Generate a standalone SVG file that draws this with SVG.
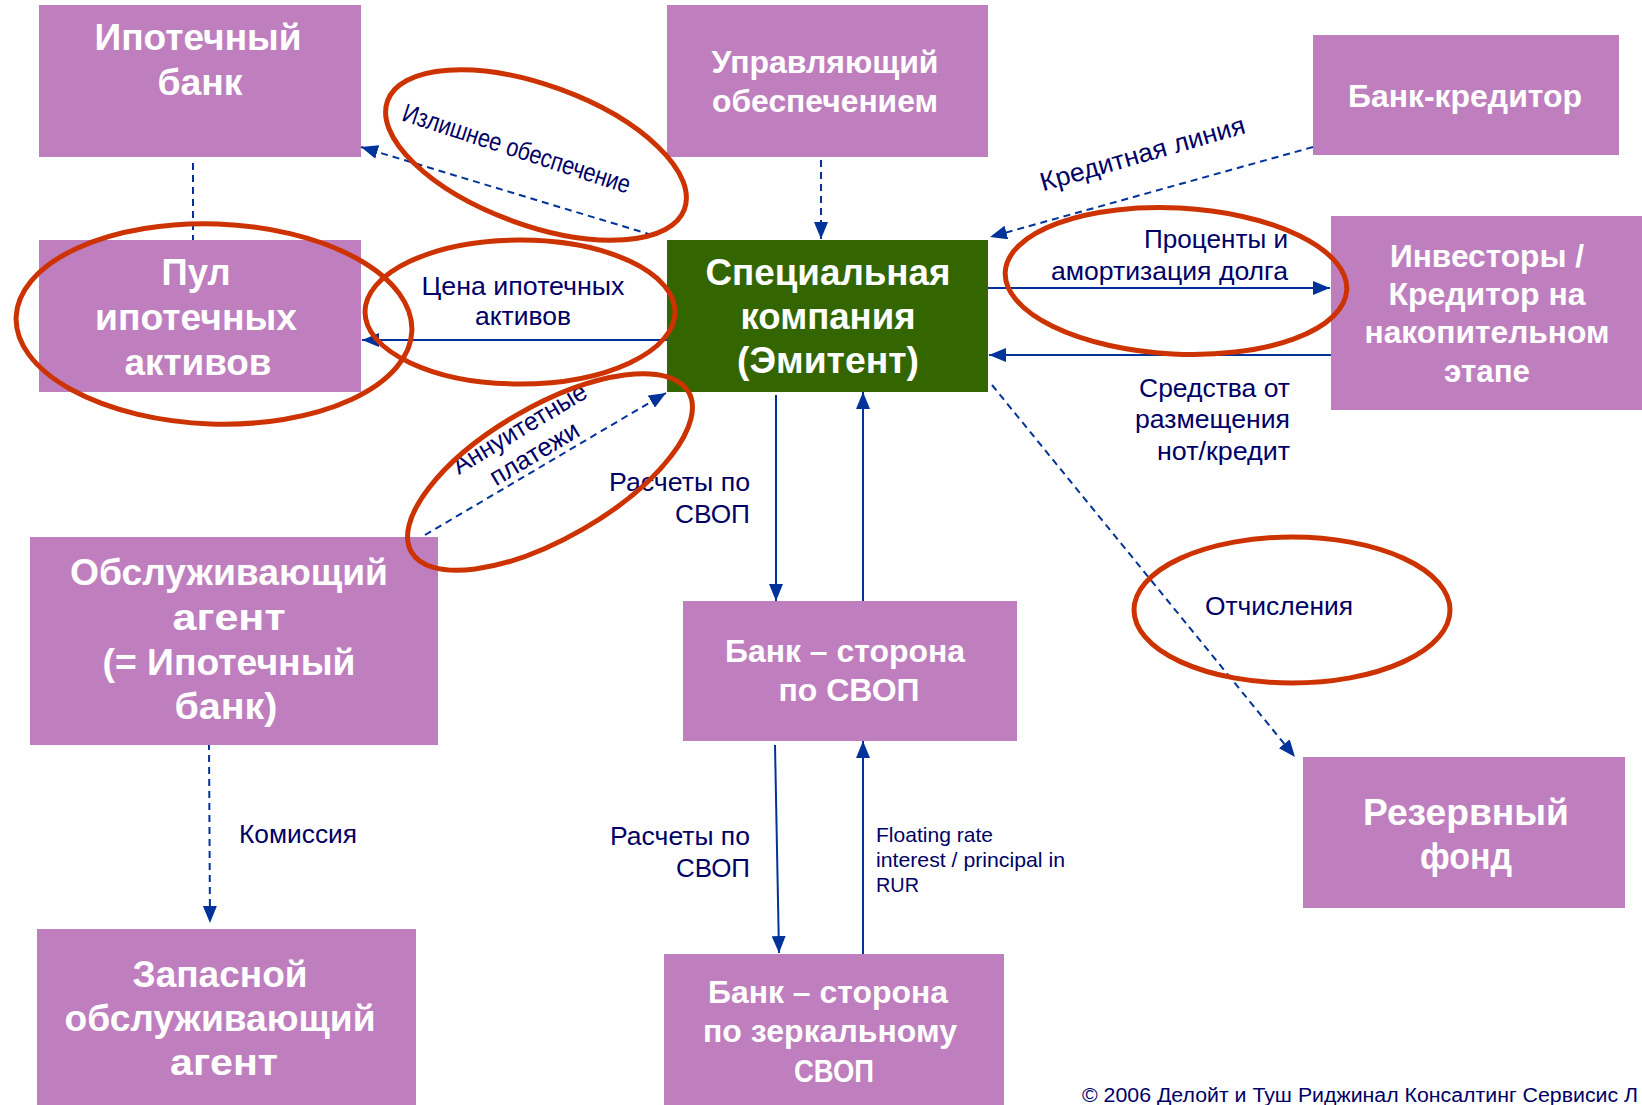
<svg xmlns="http://www.w3.org/2000/svg" width="1642" height="1105" viewBox="0 0 1642 1105">
<style>
.box{fill:#BF7FBF}
.spv{fill:#336600}
.nt{font-family:"Liberation Sans",Arial,sans-serif;font-weight:bold;fill:#FFFFFF;text-anchor:middle}
.big{font-size:36px}
.med{font-size:31px}
.lb{font-family:"Liberation Sans",Arial,sans-serif;font-size:26px;fill:#000066}
.sm{font-size:21px}
.end{text-anchor:end}
.mid{text-anchor:middle}
.ln{fill:none;stroke:#003399;stroke-width:2}
.ds{stroke-dasharray:7 5}
.ar{marker-end:url(#ah)}
.ring{fill:none;stroke:#CC3300;stroke-width:5}
.foot{font-family:"Liberation Sans",Arial,sans-serif;font-size:20px;fill:#000066}
</style>
<defs>
<marker id="ah" markerUnits="userSpaceOnUse" markerWidth="18" markerHeight="14" refX="17" refY="7" orient="auto">
<path d="M0,0 L17,7 L0,14 z" fill="#003399"/>
</marker>
</defs>

<g id="connectors">
<path class="ln ds" d="M193,163 V240"/>
<path class="ln ds ar" d="M652,235 L361,147"/>
<path class="ln ds ar" d="M821,148 V239"/>
<path class="ln ds ar" d="M1313,147 L990,237"/>
<path class="ln ar" d="M981,288 H1330"/>
<path class="ln ar" d="M1331,355 H989"/>
<path class="ln ar" d="M667,340 H362"/>
<path class="ln ds ar" d="M425,535 L666,393"/>
<path class="ln ar" d="M776,395 V601"/>
<path class="ln ar" d="M863,601 V392"/>
<path class="ln ds ar" d="M992,385 L1295,757"/>
<path class="ln ds ar" d="M209,743 L210,923"/>
<path class="ln ar" d="M775,745 L779,953"/>
<path class="ln ar" d="M863,954 V741"/>
</g>

<g id="labels">
<text class="lb" font-size="22" transform="translate(514,157) rotate(18)" text-anchor="middle" textLength="238" lengthAdjust="spacingAndGlyphs">Излишнее обеспечение</text>
<text class="lb" transform="translate(1145,162) rotate(-16)" text-anchor="middle" textLength="212" lengthAdjust="spacingAndGlyphs">Кредитная линия</text>
<text class="lb mid" x="523" y="295" textLength="203" lengthAdjust="spacingAndGlyphs">Цена ипотечных</text>
<text class="lb mid" x="523" y="325" textLength="96" lengthAdjust="spacingAndGlyphs">активов</text>
<text class="lb end" x="1288" y="248" textLength="144" lengthAdjust="spacingAndGlyphs">Проценты и</text>
<text class="lb end" x="1288" y="280" textLength="237" lengthAdjust="spacingAndGlyphs">амортизация долга</text>
<text class="lb end" x="1290" y="397" textLength="151" lengthAdjust="spacingAndGlyphs">Средства от</text>
<text class="lb end" x="1290" y="428" textLength="155" lengthAdjust="spacingAndGlyphs">размещения</text>
<text class="lb end" x="1290" y="460" textLength="133" lengthAdjust="spacingAndGlyphs">нот/кредит</text>
<g transform="translate(527,441) rotate(-31)">
<text class="lb mid" font-size="25" x="0" y="-6" textLength="152" lengthAdjust="spacingAndGlyphs">Аннуитетные</text>
<text class="lb mid" font-size="25" x="0" y="23" textLength="100" lengthAdjust="spacingAndGlyphs">платежи</text>
</g>
<text class="lb end" x="750" y="491" textLength="141" lengthAdjust="spacingAndGlyphs">Расчеты по</text>
<text class="lb end" x="750" y="523" textLength="75" lengthAdjust="spacingAndGlyphs">СВОП</text>
<text class="lb mid" x="1279" y="615" textLength="148" lengthAdjust="spacingAndGlyphs">Отчисления</text>
<text class="lb" x="239" y="843" textLength="118" lengthAdjust="spacingAndGlyphs">Комиссия</text>
<text class="lb end" x="750" y="845" textLength="140" lengthAdjust="spacingAndGlyphs">Расчеты по</text>
<text class="lb end" x="750" y="877" textLength="74" lengthAdjust="spacingAndGlyphs">СВОП</text>
<text class="lb sm" x="876" y="842" textLength="117" lengthAdjust="spacingAndGlyphs">Floating rate</text>
<text class="lb sm" x="876" y="867" textLength="189" lengthAdjust="spacingAndGlyphs">interest / principal in</text>
<text class="lb sm" x="876" y="892" textLength="43" lengthAdjust="spacingAndGlyphs">RUR</text>
<text class="foot" x="1082" y="1102" textLength="556" lengthAdjust="spacingAndGlyphs">© 2006 Делойт и Туш Риджинал Консалтинг Сервисис Л</text>
</g>

<g id="n-ipotechny-bank">
<rect class="box" x="39" y="5" width="322" height="152"/>
<text class="nt big" x="198" y="50" textLength="207" lengthAdjust="spacingAndGlyphs">Ипотечный</text>
<text class="nt big" x="200" y="95" textLength="85" lengthAdjust="spacingAndGlyphs">банк</text>
</g>
<g id="n-upravlyayushchy">
<rect class="box" x="667" y="5" width="321" height="152"/>
<text class="nt med" x="825" y="73" textLength="227" lengthAdjust="spacingAndGlyphs">Управляющий</text>
<text class="nt med" x="825" y="112" textLength="226" lengthAdjust="spacingAndGlyphs">обеспечением</text>
</g>
<g id="n-bank-kreditor">
<rect class="box" x="1313" y="35" width="306" height="120"/>
<text class="nt med" x="1465" y="107" textLength="234" lengthAdjust="spacingAndGlyphs">Банк-кредитор</text>
</g>
<g id="n-pool">
<rect class="box" x="39" y="240" width="322" height="152"/>
<text class="nt big" x="196" y="285" textLength="69" lengthAdjust="spacingAndGlyphs">Пул</text>
<text class="nt big" x="196" y="330" textLength="202" lengthAdjust="spacingAndGlyphs">ипотечных</text>
<text class="nt big" x="198" y="375" textLength="147" lengthAdjust="spacingAndGlyphs">активов</text>
</g>
<g id="n-spv">
<rect class="spv" x="667" y="240" width="321" height="152"/>
<text class="nt big" x="828" y="285" textLength="245" lengthAdjust="spacingAndGlyphs">Специальная</text>
<text class="nt big" x="828" y="329" textLength="175" lengthAdjust="spacingAndGlyphs">компания</text>
<text class="nt big" x="828" y="373" textLength="182" lengthAdjust="spacingAndGlyphs">(Эмитент)</text>
</g>
<g id="n-investory">
<rect class="box" x="1331" y="216" width="320" height="194"/>
<text class="nt med" x="1487" y="267" textLength="194" lengthAdjust="spacingAndGlyphs">Инвесторы /</text>
<text class="nt med" x="1487" y="305" textLength="197" lengthAdjust="spacingAndGlyphs">Кредитор на</text>
<text class="nt med" x="1487" y="343" textLength="245" lengthAdjust="spacingAndGlyphs">накопительном</text>
<text class="nt med" x="1487" y="382" textLength="86" lengthAdjust="spacingAndGlyphs">этапе</text>
</g>
<g id="n-obsluzhivayushchy">
<rect class="box" x="30" y="537" width="408" height="208"/>
<text class="nt big" x="229" y="585" textLength="318" lengthAdjust="spacingAndGlyphs">Обслуживающий</text>
<text class="nt big" x="229" y="630" textLength="113" lengthAdjust="spacingAndGlyphs">агент</text>
<text class="nt big" x="229" y="675" textLength="253" lengthAdjust="spacingAndGlyphs">(= Ипотечный</text>
<text class="nt big" x="226" y="719" textLength="103" lengthAdjust="spacingAndGlyphs">банк)</text>
</g>
<g id="n-bank-svop">
<rect class="box" x="683" y="601" width="334" height="140"/>
<text class="nt med" x="845" y="662" textLength="240" lengthAdjust="spacingAndGlyphs">Банк – сторона</text>
<text class="nt med" x="849" y="701" textLength="141" lengthAdjust="spacingAndGlyphs">по СВОП</text>
</g>
<g id="n-rezervny">
<rect class="box" x="1303" y="757" width="322" height="151"/>
<text class="nt big" x="1466" y="825" textLength="206" lengthAdjust="spacingAndGlyphs">Резервный</text>
<text class="nt big" x="1466" y="869" textLength="92" lengthAdjust="spacingAndGlyphs">фонд</text>
</g>
<g id="n-zapasnoy">
<rect class="box" x="37" y="929" width="379" height="180"/>
<text class="nt big" x="220" y="987" textLength="175" lengthAdjust="spacingAndGlyphs">Запасной</text>
<text class="nt big" x="220" y="1031" textLength="311" lengthAdjust="spacingAndGlyphs">обслуживающий</text>
<text class="nt big" x="224" y="1075" textLength="108" lengthAdjust="spacingAndGlyphs">агент</text>
</g>
<g id="n-bank-zerkalny">
<rect class="box" x="664" y="954" width="340" height="155"/>
<text class="nt med" x="828" y="1003" textLength="240" lengthAdjust="spacingAndGlyphs">Банк – сторона</text>
<text class="nt med" x="830" y="1042" textLength="254" lengthAdjust="spacingAndGlyphs">по зеркальному</text>
<text class="nt med" x="834" y="1082" textLength="80" lengthAdjust="spacingAndGlyphs">СВОП</text>
</g>

<g id="highlights">
<ellipse class="ring" cx="536" cy="155" rx="158" ry="70" transform="rotate(20 536 155)"/>
<ellipse class="ring" cx="214" cy="324" rx="198" ry="100" transform="rotate(2 214 324)"/>
<ellipse class="ring" cx="520" cy="312" rx="155" ry="72"/>
<ellipse class="ring" cx="550" cy="472" rx="160" ry="66" transform="rotate(-30 550 472)"/>
<ellipse class="ring" cx="1176" cy="281" rx="171" ry="73" transform="rotate(3 1176 281)"/>
<ellipse class="ring" cx="1292" cy="610" rx="158" ry="73"/>
</g>
</svg>
